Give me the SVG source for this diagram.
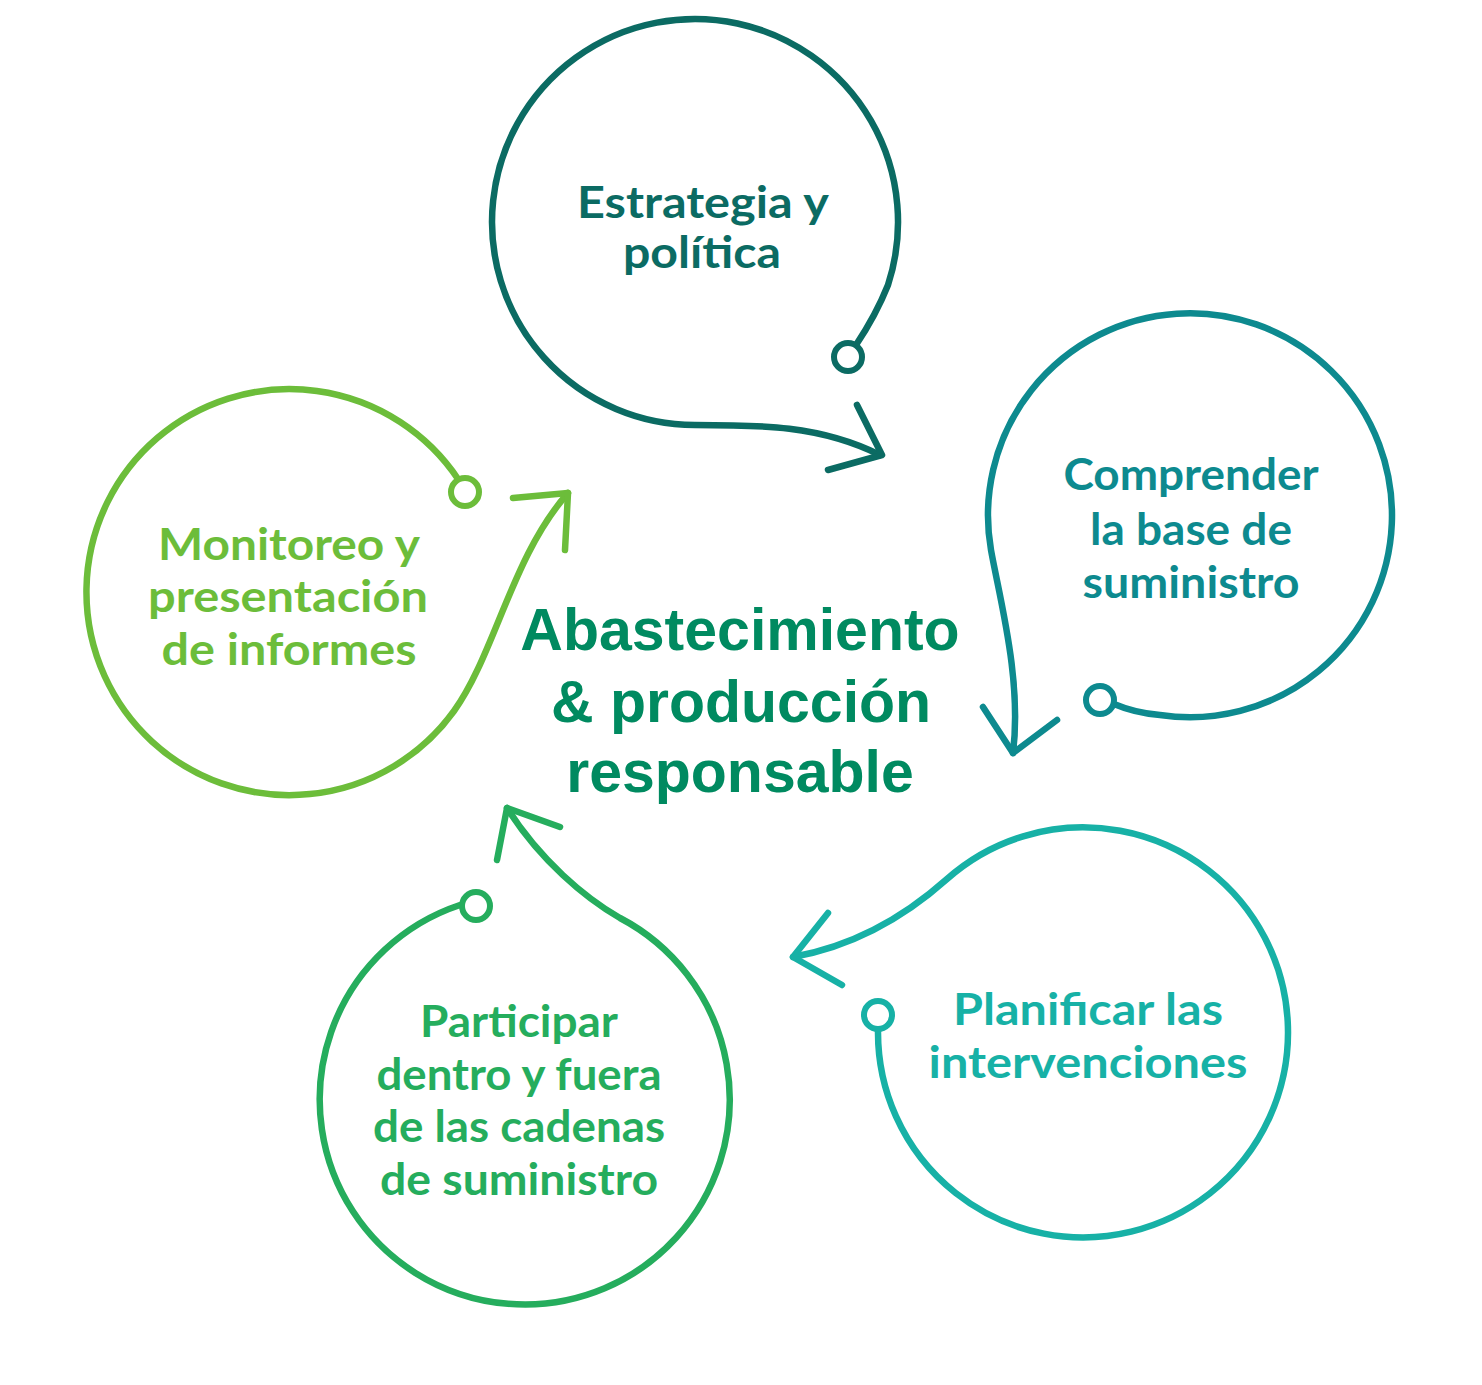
<svg xmlns="http://www.w3.org/2000/svg" width="1482" height="1385" viewBox="0 0 1482 1385">
<style>
.ln{fill:none;stroke-width:6.5;stroke-linecap:round;stroke-linejoin:round}
.ring{fill:#fff;stroke-width:6}
.lbl{font-family:Lato,"Open Sans",sans-serif;font-weight:bold;font-size:43px;text-anchor:middle}
.ctr{font-family:"Liberation Sans",Arial,sans-serif;font-weight:bold;font-size:59px;text-anchor:middle;fill:#008a60}
.c1{stroke:#0b6b63}.t1{fill:#0b6b63}
.c2{stroke:#0d8a8f}.t2{fill:#0d8a8f}
.c3{stroke:#17b1a6}.t3{fill:#17b1a6}
.c4{stroke:#25ad5d}.t4{fill:#25ad5d}
.c5{stroke:#6cbd3a}.t5{fill:#6cbd3a}
</style>
<rect width="1482" height="1385" fill="#fff"/>
<g id="connectors">
  <path class="ln c1" d="M856,345 C866,330 880,305 888,285 A203,203 0 1 0 695,425 C760,425 820,425 880,455"/>
  <path class="ln c1" d="M857,405 L882,455 L828,470"/>
  <path class="ln c2" d="M1114,704 Q1135,713 1160,715 A202,202 0 1 0 991,550 C1000,600 1022,680 1013,753"/>
  <path class="ln c2" d="M983,707 L1013,753 L1057,720"/>
  <path class="ln c3" d="M878,1031 A205,205 0 1 0 947,879 C910,912 860,945 793,957"/>
  <path class="ln c3" d="M828,913 L793,957 L842,985"/>
  <path class="ln c4" d="M460,905 A205,205 0 1 0 620,918 C585,898 540,860 507,808"/>
  <path class="ln c4" d="M497,860 L507,808 L560,827"/>
  <path class="ln c5" d="M458,479 A203,203 0 1 0 454,711 C495,654 512,556 568,493"/>
  <path class="ln c5" d="M513,498 L568,493 L565,550"/>
</g>
<g id="node-estrategia">
  <circle class="ring c1" cx="848" cy="357" r="14"/>
  <text class="lbl t1" x="703" y="218" textLength="252" lengthAdjust="spacingAndGlyphs">Estrategia y</text>
  <text class="lbl t1" x="702" y="268" textLength="158" lengthAdjust="spacingAndGlyphs">política</text>
</g>
<g id="node-comprender">
  <circle class="ring c2" cx="1100" cy="700" r="14"/>
  <text class="lbl t2" x="1191" y="490" textLength="255" lengthAdjust="spacingAndGlyphs">Comprender</text>
  <text class="lbl t2" x="1191" y="545" textLength="202" lengthAdjust="spacingAndGlyphs">la base de</text>
  <text class="lbl t2" x="1191" y="598" textLength="217" lengthAdjust="spacingAndGlyphs">suministro</text>
</g>
<g id="node-planificar">
  <circle class="ring c3" cx="878" cy="1015" r="14"/>
  <text class="lbl t3" x="1088" y="1025" textLength="270" lengthAdjust="spacingAndGlyphs">Planificar las</text>
  <text class="lbl t3" x="1088" y="1078" textLength="319" lengthAdjust="spacingAndGlyphs">intervenciones</text>
</g>
<g id="node-participar">
  <circle class="ring c4" cx="476" cy="906" r="14"/>
  <text class="lbl t4" x="519" y="1037" textLength="198" lengthAdjust="spacingAndGlyphs">Participar</text>
  <text class="lbl t4" x="519" y="1090" textLength="285" lengthAdjust="spacingAndGlyphs">dentro y fuera</text>
  <text class="lbl t4" x="519" y="1142" textLength="292" lengthAdjust="spacingAndGlyphs">de las cadenas</text>
  <text class="lbl t4" x="519" y="1195" textLength="278" lengthAdjust="spacingAndGlyphs">de suministro</text>
</g>
<g id="node-monitoreo">
  <circle class="ring c5" cx="465" cy="492" r="14"/>
  <text class="lbl t5" x="289" y="560" textLength="262" lengthAdjust="spacingAndGlyphs">Monitoreo y</text>
  <text class="lbl t5" x="288" y="612" textLength="280" lengthAdjust="spacingAndGlyphs">presentación</text>
  <text class="lbl t5" x="289" y="665" textLength="255" lengthAdjust="spacingAndGlyphs">de informes</text>
</g>
<g id="node-center">
  <text class="ctr" x="740" y="650">Abastecimiento</text>
  <text class="ctr" x="741" y="722">&amp; producción</text>
  <text class="ctr" x="740" y="792">responsable</text>
</g>
</svg>
